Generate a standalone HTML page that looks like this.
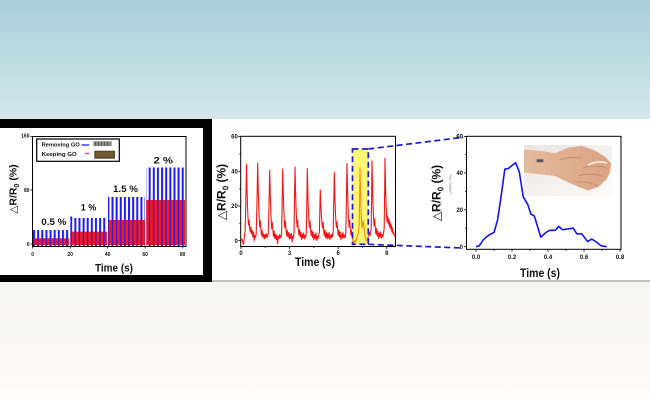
<!DOCTYPE html>
<html><head><meta charset="utf-8"><style>
html,body{margin:0;padding:0;width:650px;height:400px;overflow:hidden;background:#fff}
svg{display:block}
text{font-family:"Liberation Sans",Arial,sans-serif}
</style></head><body>
<svg width="650" height="400" viewBox="0 0 650 400" xmlns="http://www.w3.org/2000/svg">
<defs>
<linearGradient id="gTop" x1="0" y1="0" x2="0" y2="1">
<stop offset="0" stop-color="#aacfd9"/><stop offset="1" stop-color="#d3e7ec"/>
</linearGradient>
<linearGradient id="gBot" x1="0" y1="0" x2="0" y2="1">
<stop offset="0" stop-color="#f5f5f3"/><stop offset="1" stop-color="#fdfcf9"/>
</linearGradient>
<pattern id="pBlue" patternUnits="userSpaceOnUse" x="0" y="0" width="4.13" height="300">
<rect x="0" y="0" width="2" height="300" fill="#1c1cf0"/>
</pattern>
<pattern id="pRed" patternUnits="userSpaceOnUse" x="0" y="0" width="4.13" height="300">
<rect x="0" y="0" width="4.13" height="300" fill="#f81818"/>
<rect x="0.2" y="0" width="1.3" height="300" fill="#2a1ae0"/>
</pattern>
<linearGradient id="gPhoto" x1="0" y1="0" x2="1" y2="1">
<stop offset="0" stop-color="#e9e5e0"/><stop offset="1" stop-color="#fdfcfb"/>
</linearGradient>
<linearGradient id="gSkin" x1="0" y1="0" x2="1" y2="0">
<stop offset="0" stop-color="#e4bb9e"/><stop offset="1" stop-color="#dba283"/>
</linearGradient>
</defs>

<!-- backgrounds -->
<rect x="0" y="0" width="650" height="120" fill="url(#gTop)"/>
<rect x="0" y="282" width="650" height="118" fill="url(#gBot)"/>
<rect x="212" y="119" width="438" height="162" fill="#ffffff"/>
<rect x="212" y="280" width="438" height="2" fill="#c2c2c2"/>
<rect x="0" y="119" width="212" height="163" fill="#000"/>
<rect x="0" y="128" width="203" height="147" fill="#fff"/>

<!-- ============ CHART 1 ============ -->
<g>
<rect x="33" y="230" width="36" height="16" fill="url(#pBlue)"/>
<rect x="33" y="238.3" width="36" height="6.7" fill="url(#pRed)"/>
<rect x="70.3" y="218" width="36.7" height="28" fill="url(#pBlue)"/>
<rect x="70.3" y="216.5" width="1.9" height="3" fill="#1c1cf0"/>
<rect x="70.3" y="231.7" width="36.7" height="13.3" fill="url(#pRed)"/>
<rect x="108" y="197" width="37" height="49" fill="url(#pBlue)"/>
<rect x="108" y="220" width="37" height="25" fill="url(#pRed)"/>
<rect x="146.3" y="167.5" width="38.7" height="78.5" fill="url(#pBlue)"/>
<rect x="146.3" y="200" width="38.7" height="45" fill="url(#pRed)"/>
<rect x="32.5" y="136.5" width="153.5" height="110" fill="none" stroke="#000" stroke-width="1"/>
<g stroke="#000" stroke-width="0.8">
<line x1="30.5" y1="244" x2="32.5" y2="244"/>
<line x1="30.5" y1="190" x2="32.5" y2="190"/>
<line x1="30.5" y1="136.5" x2="32.5" y2="136.5"/>
<line x1="32.7" y1="246.5" x2="32.7" y2="248.5"/>
<line x1="70.2" y1="246.5" x2="70.2" y2="248.5"/>
<line x1="107.7" y1="246.5" x2="107.7" y2="248.5"/>
<line x1="145.2" y1="246.5" x2="145.2" y2="248.5"/>
<line x1="182.7" y1="246.5" x2="182.7" y2="248.5"/>
</g>
<g font-size="5" font-weight="bold" fill="#111" text-anchor="end">
<text x="29.5" y="137.5">160</text>
<text x="29.5" y="191.8">80</text>
<text x="29.5" y="246">0</text>
</g>
<g font-size="5" font-weight="bold" fill="#111" text-anchor="middle">
<text x="32.7" y="256">0</text>
<text x="70.2" y="256">20</text>
<text x="107.7" y="256">40</text>
<text x="145.2" y="256">60</text>
<text x="182.7" y="256">80</text>
</g>
<rect x="36.7" y="139" width="82.6" height="22.3" fill="#fff" stroke="#000" stroke-width="1.2"/>
<text x="41.7" y="146.6" font-size="5.6" font-weight="bold" fill="#111" textLength="38" lengthAdjust="spacingAndGlyphs">Removing GO</text>
<line x1="81.5" y1="145" x2="89.3" y2="145" stroke="#1c1cf0" stroke-width="1.3"/>
<rect x="93.3" y="141.3" width="18.4" height="4.8" fill="#8d8d88"/>
<g stroke="#3e3e3a" stroke-width="0.6">
<line x1="95.5" y1="141.5" x2="95.5" y2="146"/><line x1="98.5" y1="141.5" x2="98.5" y2="146"/><line x1="101.5" y1="141.5" x2="101.5" y2="146"/><line x1="104.5" y1="141.5" x2="104.5" y2="146"/><line x1="107.5" y1="141.5" x2="107.5" y2="146"/>
</g>
<text x="41.7" y="156" font-size="5.6" font-weight="bold" fill="#111" textLength="35" lengthAdjust="spacingAndGlyphs">Keeping GO</text>
<line x1="85" y1="153.5" x2="89.3" y2="153.5" stroke="#e0408a" stroke-width="1.3"/>
<rect x="94.3" y="150.7" width="20.7" height="8" fill="#5c4a2c"/>
<rect x="96" y="152" width="17" height="5" fill="#7a6238" opacity="0.8"/>
<g font-size="9.5" font-weight="bold" fill="#111">
<text x="41.3" y="224.8" textLength="25" lengthAdjust="spacingAndGlyphs">0.5 %</text>
<text x="80.7" y="210.3" textLength="15.6" lengthAdjust="spacingAndGlyphs">1 %</text>
<text x="113" y="191.8" textLength="25" lengthAdjust="spacingAndGlyphs">1.5 %</text>
<text x="153.5" y="163.3" textLength="19.5" lengthAdjust="spacingAndGlyphs">2 %</text>
</g>
<text x="114" y="271.5" font-size="11" font-weight="bold" fill="#111" text-anchor="middle" textLength="38" lengthAdjust="spacingAndGlyphs">Time  (s)</text>
<g transform="translate(12.5,189) rotate(-90)">
<text x="0" y="4" font-size="10.5" fill="#111" text-anchor="middle"><tspan font-family="DejaVu Sans" font-weight="normal">△</tspan><tspan font-weight="bold">R/R</tspan><tspan font-weight="bold" font-size="7" dy="2.5">0</tspan><tspan font-weight="bold" dy="-2.5"> (%)</tspan></text>
</g>
</g>

<!-- ============ CHART 2 ============ -->
<g>
<rect x="240.7" y="136.3" width="154.8" height="110.2" fill="none" stroke="#000" stroke-width="1"/>
<g stroke="#000" stroke-width="0.8">
<line x1="238.3" y1="240.7" x2="240.7" y2="240.7"/>
<line x1="238.3" y1="206" x2="240.7" y2="206"/>
<line x1="238.3" y1="171.3" x2="240.7" y2="171.3"/>
<line x1="238.3" y1="136.6" x2="240.7" y2="136.6"/>
<line x1="239.3" y1="223.35" x2="240.7" y2="223.35"/>
<line x1="239.3" y1="188.65" x2="240.7" y2="188.65"/>
<line x1="239.3" y1="153.95" x2="240.7" y2="153.95"/>
<line x1="241" y1="246.5" x2="241" y2="249"/>
<line x1="289.6" y1="246.5" x2="289.6" y2="249"/>
<line x1="338.2" y1="246.5" x2="338.2" y2="249"/>
<line x1="386.8" y1="246.5" x2="386.8" y2="249"/>
<line x1="265.3" y1="246.5" x2="265.3" y2="248"/>
<line x1="313.9" y1="246.5" x2="313.9" y2="248"/>
<line x1="362.5" y1="246.5" x2="362.5" y2="248"/>
</g>
<g font-size="6" font-weight="bold" fill="#111" text-anchor="end">
<text x="237.8" y="138.6">60</text>
<text x="237.8" y="173.4">40</text>
<text x="237.8" y="208.1">20</text>
<text x="237.8" y="242.8">0</text>
</g>
<g font-size="6" font-weight="bold" fill="#111" text-anchor="middle">
<text x="241" y="255">0</text>
<text x="289.6" y="255">3</text>
<text x="338.2" y="255">6</text>
<text x="386.8" y="255">9</text>
</g>
<polyline fill="none" stroke="#f01818" stroke-width="1.1" stroke-linejoin="round" points="
241,240 242,239 242.8,242.4 243.5,244.5 244.3,237.2 245.1,232 245.8,202.5 246.5,164.4 247,187.3 247.5,206.4 248,217.8 248.5,225.1 249.1,219.9 249.7,228.6 250.3,232 250.9,226.8 251.5,233.8 252.2,230.3 252.9,237.2 253.6,232 254.3,240.7 255,235.5 255.6,237.2
256.2,233.8 257,201 257.7,163.3 258.2,186.7 258.7,205.9 259.2,217.5 259.7,226.8 260.3,220.8 260.9,229.4 261.5,235.5 262.1,230.3 262.8,237.2 263.5,233.8 264.2,239 264.9,234.6 265.6,238.2 266.3,233.8 267,237.2 267.7,236
268.3,233 269,205 269.7,170.4 270.2,192 270.7,209 271.2,220 271.7,228.6 272.3,222.3 272.9,230.3 273.5,236.4 274.1,231 274.8,238.5 275.5,234 276.2,239.6 276.9,235 277.6,244 278.3,236 279,238.6 279.7,234.5 280.4,237.5 281.1,236.5
281.6,233.5 282.1,205 282.7,169 283.2,191 283.7,208 284.2,219 284.8,228 285.4,221 286,230 286.6,235.5 287.2,230 287.9,237 288.6,232.5 289.3,239 290,234 290.7,238.5 291.4,233.5 292.1,242 292.8,236.5 293.5,238
294,233 294.4,205 295,167.1 295.5,189 296,207 296.5,218.5 297.1,227 297.7,220 298.3,229 298.9,235 299.5,229.5 300.2,237 300.9,232 301.6,239.5 302.3,234 303,238 303.7,233 304.4,239 305.1,235.5 305.8,237
306.3,233 306.8,204 307.3,168.4 307.8,190 308.3,207.5 308.8,219 309.4,227.5 310,221 310.6,229.5 311.2,235.5 311.8,230 312.5,237.5 313.2,232 313.9,240 314.6,234.5 315.3,238.5 316,233 316.7,240.5 317.4,236 318.1,238.5 318.8,235
319.4,232.5 319.8,212 320.3,189.9 320.8,204 321.3,214 321.9,222 322.5,228 323.1,222.5 323.7,230.5 324.3,235.5 324.9,230 325.6,237.5 326.3,232 327,239 327.7,233.5 328.4,238 329.1,232.5 329.8,239.5 330.5,235 331.2,238 331.9,234 332.6,237
333.2,232 333.7,206 334.3,172.7 334.8,193 335.3,209 335.8,219.5 336.4,227.5 337,221.5 337.6,229.5 338.2,235.5 338.8,230 339.5,237 340.2,232 340.9,239.5 341.6,234 342.3,238 343,232.5 343.7,237.5 344.4,235 345.1,238
345.8,233 346.4,202 347,163.5 347.5,187 348,206 348.5,218 349.1,227 349.7,220 350.3,229 350.9,235 351.5,230 352.2,237.5 352.9,240.5 353.6,242 354.3,243 355,240.5 355.7,241.5 356.4,238 357.1,236.5 357.8,235 358.5,232.5
359.2,226 359.6,200 360,167.8 360.5,190 361,208 361.5,220 362,228 362.6,224 363.2,221 363.8,226 364.4,231 365,236 365.7,239 366.4,241 367.1,240 367.8,237.5 368.5,235 369.2,232 369.9,236 370.5,233
371.2,229 371.6,198 372,160.9 372.5,186 373,205 373.5,217 374.1,226 374.7,219 375.3,228 375.9,234 376.5,228.5 377.2,236 377.9,231 378.6,238.5 379.3,233 380,237 380.7,232 381.4,238 382.1,234.5 382.8,237 383.5,233
384.2,228 384.6,196 385,158.3 385.5,184 386,203 386.5,214 387.1,222 387.7,216 388.3,224 388.9,219 389.5,227 390.1,222 390.7,229 391.3,225 391.9,232 392.5,228 393.1,234 393.7,232 394.3,236 395,236.5"/>
<rect x="352.5" y="149" width="15.8" height="95.3" fill="#ffee00" opacity="0.55"/>
<rect x="352.5" y="149" width="15.8" height="95.3" fill="none" stroke="#1a1ac8" stroke-width="1.7" stroke-dasharray="6,3.5"/>
<text x="315" y="266" font-size="12" font-weight="bold" fill="#111" text-anchor="middle" textLength="40" lengthAdjust="spacingAndGlyphs">Time (s)</text>
<g transform="translate(221,192) rotate(-90)">
<text x="0" y="4.5" font-size="12" fill="#111" text-anchor="middle"><tspan font-family="DejaVu Sans" font-weight="normal">△</tspan><tspan font-weight="bold">R/R</tspan><tspan font-weight="bold" font-size="8" dy="3">0</tspan><tspan font-weight="bold" dy="-3"> (%)</tspan></text>
</g>
</g>

<g stroke="#1a1ac8" stroke-width="1.7" stroke-dasharray="6,3.5" fill="none">
<line x1="368.3" y1="149" x2="463" y2="137.3"/>
<line x1="368.3" y1="244.3" x2="462" y2="248"/>
</g>

<!-- ============ CHART 3 ============ -->
<g>
<rect x="466.5" y="136.3" width="154.5" height="113" fill="none" stroke="#000" stroke-width="1"/>
<g stroke="#000" stroke-width="0.8">
<line x1="464" y1="246.7" x2="466.5" y2="246.7"/>
<line x1="464" y1="209.8" x2="466.5" y2="209.8"/>
<line x1="464" y1="172.9" x2="466.5" y2="172.9"/>
<line x1="464" y1="136.5" x2="466.5" y2="136.5"/>
<line x1="465" y1="228.25" x2="466.5" y2="228.25"/>
<line x1="465" y1="191.35" x2="466.5" y2="191.35"/>
<line x1="465" y1="154.45" x2="466.5" y2="154.45"/>
<line x1="476" y1="249.3" x2="476" y2="251.8"/>
<line x1="512" y1="249.3" x2="512" y2="251.8"/>
<line x1="548" y1="249.3" x2="548" y2="251.8"/>
<line x1="584" y1="249.3" x2="584" y2="251.8"/>
<line x1="620" y1="249.3" x2="620" y2="251.8"/>
<line x1="494" y1="249.3" x2="494" y2="250.8"/>
<line x1="530" y1="249.3" x2="530" y2="250.8"/>
<line x1="566" y1="249.3" x2="566" y2="250.8"/>
<line x1="602" y1="249.3" x2="602" y2="250.8"/>
</g>
<g font-size="6" font-weight="bold" fill="#111" text-anchor="end">
<text x="463" y="138.6">60</text>
<text x="463" y="175">40</text>
<text x="463" y="211.9">20</text>
<text x="463" y="248.8">0</text>
</g>
<g font-size="6" font-weight="bold" fill="#111" text-anchor="middle">
<text x="476" y="259">0.0</text>
<text x="512" y="259">0.2</text>
<text x="548" y="259">0.4</text>
<text x="584" y="259">0.6</text>
<text x="620" y="259">0.8</text>
</g>
<!-- hand photo -->
<rect x="524" y="145" width="88" height="51" fill="url(#gPhoto)"/>
<path d="M524,149.5 L541.7,151 L555,153.2 L568.3,147.5 L581.7,146 L595,150.5 L605,156.7 L611,163.3 L610,172.5 L606.7,179 L598.3,187 L588.3,190.5 L580,187.5 L568.3,182.5 L555,176 L538.3,174 L524,172.5 Z" fill="url(#gSkin)"/>
<g stroke="#b97e60" stroke-width="0.6" fill="none">
<path d="M583,168 Q596,164 606,168"/>
<path d="M578,176 Q592,172 604,177"/>
<path d="M575,182 Q588,181 598,186"/>
<path d="M560,160 Q570,156 582,158"/>
</g>
<path d="M588,165 Q598,160 607,163" stroke="#f6f4f2" stroke-width="1.6" fill="none"/>
<rect x="536.7" y="159.3" width="6.6" height="2.9" fill="#55555a"/>
<polyline fill="none" stroke="#1515e6" stroke-width="1.6" stroke-linejoin="round" points="476,246.7 479.2,245.8 483.2,240.1 486.8,236.6 490.4,234.2 494,232.5 497.6,219.8 501.2,195.8 504.8,169.2 508.4,168.5 512,165.5 515.6,162.7 519.2,171.4 523.3,197.1 527.7,204.3 530.9,214.2 534.3,215.9 540.8,237.1 546.2,232.3 549.8,230.3 555.2,230.3 558.8,226.4 562.4,229.7 567.8,229 573.2,228.1 576.8,233.8 581.7,233.8 587.6,241.5 591.7,239.1 595.7,241.5 601.1,245.8 606.7,246.7"/>
<text x="540" y="277" font-size="12" font-weight="bold" fill="#111" text-anchor="middle" textLength="40" lengthAdjust="spacingAndGlyphs">Time (s)</text>
<g transform="translate(436,193) rotate(-90)">
<text x="0" y="4.5" font-size="12" fill="#111" text-anchor="middle"><tspan font-family="DejaVu Sans" font-weight="normal">△</tspan><tspan font-weight="bold">R/R</tspan><tspan font-weight="bold" font-size="8" dy="3">0</tspan><tspan font-weight="bold" dy="-3"> (%)</tspan></text>
</g>
<g transform="translate(450,185) rotate(-90)">
<text x="0" y="1.5" font-size="4" fill="#888" text-anchor="middle">△R/R0 (%)</text>
</g>
</g>
</svg>
</body></html>
